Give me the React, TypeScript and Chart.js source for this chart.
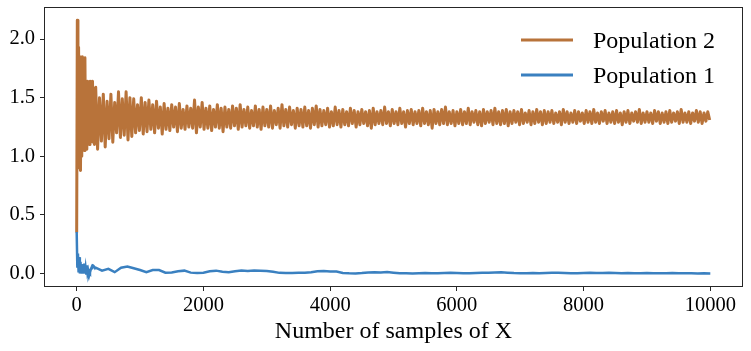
import React, { useEffect, useRef } from 'react';
import { Chart, registerables } from 'chart.js';

Chart.register(...registerables);

// ---- data ----
const seriesNames = ['Population 2', 'Population 1'];
const xTickValues = [0, 2000, 4000, 6000, 8000, 10000];
const yTickValues = [0.0, 0.5, 1.0, 1.5, 2.0];
const xAxisTitle = 'Number of samples of X';

// sampling grid (number of samples)
const earlyStart = 0;
const earlyStep = 10;
const pop2LateStart = 300;
const pop2LateStep = 30;
const pop1LateStart = 300;
const pop1LateStep = 100;

// Population 2, samples 0..290
const pop2Early = [
  0.35, 2.16, 0.9, 1.93, 1.05, 1.85, 0.88, 1.7, 1.0, 1.85,
  1.08, 1.62, 1.05, 1.84, 1.1, 1.6, 1.06, 1.64, 1.12, 1.58,
  1.1, 1.64, 1.12, 1.55, 1.15, 1.64, 1.12, 1.52, 1.1, 1.58,
];
// Population 2, samples 300..9990
const pop2Late = [
  1.59, 1.06, 1.5, 1.13, 1.53, 1.08, 1.47, 1.15, 1.53, 1.12,
  1.46, 1.2, 1.55, 1.16, 1.49, 1.18, 1.55, 1.14, 1.5, 1.17,
  1.49, 1.2, 1.44, 1.22, 1.5, 1.19, 1.46, 1.21, 1.48, 1.23,
  1.44, 1.2, 1.47, 1.24, 1.42, 1.19, 1.45, 1.23, 1.41, 1.22,
  1.44, 1.25, 1.42, 1.21, 1.45, 1.24, 1.4, 1.23, 1.43, 1.25,
  1.41, 1.24, 1.48, 1.2, 1.42, 1.25, 1.46, 1.23, 1.41, 1.24,
  1.43, 1.22, 1.4, 1.25, 1.44, 1.24, 1.41, 1.21, 1.42, 1.25,
  1.4, 1.24, 1.43, 1.26, 1.41, 1.23, 1.44, 1.25, 1.4, 1.26,
  1.42, 1.24, 1.39, 1.26, 1.43, 1.25, 1.4, 1.23, 1.42, 1.26,
  1.4, 1.25, 1.43, 1.24, 1.39, 1.27, 1.41, 1.24, 1.44, 1.26,
  1.4, 1.25, 1.42, 1.27, 1.39, 1.24, 1.41, 1.26, 1.4, 1.25,
  1.42, 1.26, 1.39, 1.24, 1.41, 1.27, 1.43, 1.25, 1.4, 1.26,
  1.39, 1.27, 1.41, 1.25, 1.38, 1.26, 1.42, 1.27, 1.39, 1.25,
  1.4, 1.27, 1.38, 1.26, 1.41, 1.28, 1.39, 1.25, 1.38, 1.27,
  1.4, 1.28, 1.38, 1.26, 1.39, 1.24, 1.41, 1.27, 1.38, 1.28,
  1.39, 1.27, 1.42, 1.28, 1.38, 1.26, 1.4, 1.28, 1.38, 1.27,
  1.41, 1.28, 1.38, 1.25, 1.39, 1.28, 1.4, 1.27, 1.38, 1.28,
  1.39, 1.26, 1.41, 1.28, 1.38, 1.27, 1.39, 1.24, 1.4, 1.28,
  1.38, 1.27, 1.4, 1.28, 1.42, 1.27, 1.38, 1.28, 1.39, 1.26,
  1.38, 1.28, 1.4, 1.27, 1.38, 1.28, 1.41, 1.27, 1.38, 1.29,
  1.39, 1.27, 1.38, 1.26, 1.4, 1.28, 1.38, 1.29, 1.39, 1.27,
  1.41, 1.28, 1.38, 1.27, 1.39, 1.28, 1.4, 1.26, 1.38, 1.28,
  1.39, 1.29, 1.38, 1.27, 1.4, 1.28, 1.37, 1.29, 1.39, 1.27,
  1.38, 1.28, 1.4, 1.29, 1.38, 1.27, 1.39, 1.28, 1.38, 1.29,
  1.39, 1.28, 1.37, 1.29, 1.38, 1.27, 1.4, 1.29, 1.38, 1.28,
  1.37, 1.29, 1.39, 1.28, 1.38, 1.3, 1.37, 1.28, 1.39, 1.29,
  1.38, 1.28, 1.4, 1.29, 1.37, 1.28, 1.38, 1.3, 1.39, 1.28,
  1.37, 1.29, 1.38, 1.28, 1.39, 1.29, 1.37, 1.27, 1.38, 1.29,
  1.39, 1.28, 1.37, 1.3, 1.38, 1.29, 1.4, 1.28, 1.37, 1.29,
  1.38, 1.29, 1.37, 1.28, 1.39, 1.3, 1.38, 1.28, 1.37, 1.29,
  1.38, 1.28, 1.39, 1.29, 1.37, 1.3, 1.38, 1.28, 1.4, 1.29,
  1.37, 1.29, 1.38, 1.28, 1.37, 1.3, 1.39, 1.29, 1.38, 1.28,
  1.37, 1.3, 1.38, 1.31,
];

// Population 1, samples 0..290
const pop1Early = [
  0.355, 0.06, 0.17, 0.01, 0.14, 0.0, 0.1, 0.01, 0.08, 0.0,
  0.06, 0.0, 0.085, 0.01, 0.05, 0.0, 0.07, 0.01, 0.03, 0.0,
  0.02, 0.01, 0.03, 0.045, 0.06, 0.07, 0.068, 0.06, 0.05, 0.045,
];
// Population 1, samples 300..10000
const pop1Late = [
  0.05, 0.025, 0.04, 0.012, 0.05, 0.06, 0.045, 0.03, 0.012, 0.03,
  0.03, 0.008, 0.01, 0.02, 0.025, 0.008, 0.005, 0.008, 0.02, 0.025,
  0.015, 0.012, 0.02, 0.026, 0.022, 0.027, 0.024, 0.022, 0.015, 0.006,
  0.004, 0.005, 0.006, 0.008, 0.012, 0.02, 0.022, 0.018, 0.017, 0.005,
  0.002, 0.001, 0.004, 0.01, 0.012, 0.01, 0.013, 0.008, 0.003, 0.002,
  0.001, 0.002, 0.004, 0.003, 0.002, 0.004, 0.006, 0.005, 0.003, 0.002,
  0.004, 0.006, 0.008, 0.01, 0.012, 0.008, 0.004, 0.002, 0.003, 0.004,
  0.002, 0.004, 0.006, 0.008, 0.005, 0.003, 0.002, 0.004, 0.006, 0.005,
  0.004, 0.006, 0.005, 0.003, 0.004, 0.003, 0.002, 0.004, 0.003, 0.002,
  0.003, 0.004, 0.003, 0.002, 0.002, 0.001, 0.002, 0.001,
];

const xMin = -500;
const xMax = 10500;
const yMin = -0.106;
const yMax = 2.265;

// ---- styles ----
const ORANGE = '#B8733A';
const BLUE = '#3A80C0';
const FONT = '"Liberation Serif", "Times New Roman", serif';
const AXIS = '#262626';

function toPoints(start: number, step: number, values: number[]) {
  return values.map((v, i) => ({ x: start + i * step, y: v }));
}

const frameAndLegend = {
  id: 'frameAndLegend',
  afterDraw(chart: any) {
    const { ctx, chartArea } = chart;
    const { left, top, right, bottom } = chartArea;
    ctx.save();
    ctx.strokeStyle = AXIS;
    ctx.lineWidth = 1;
    ctx.strokeRect(Math.round(left) - 0.5, Math.round(top) - 0.5, Math.round(right - left) + 1, Math.round(bottom - top) + 1);

    // legend (upper right, inside the axes)
    const items = [
      { label: seriesNames[0], color: ORANGE },
      { label: seriesNames[1], color: BLUE },
    ];
    ctx.font = `24px ${FONT}`;
    ctx.textBaseline = 'alphabetic';
    ctx.textAlign = 'left';
    items.forEach((it, i) => {
      const y = 40 + i * 35;
      ctx.strokeStyle = it.color;
      ctx.lineWidth = 3;
      ctx.beginPath();
      ctx.moveTo(521, y);
      ctx.lineTo(573, y);
      ctx.stroke();
      ctx.fillStyle = '#000';
      ctx.fillText(it.label, 593, y + 8.3);
    });
    ctx.restore();
  },
};

export default function App() {
  const ref = useRef<HTMLCanvasElement | null>(null);

  useEffect(() => {
    if (!ref.current) return;
    const pop2 = [...toPoints(earlyStart, earlyStep, pop2Early), ...toPoints(pop2LateStart, pop2LateStep, pop2Late)];
    const pop1 = [...toPoints(earlyStart, earlyStep, pop1Early), ...toPoints(pop1LateStart, pop1LateStep, pop1Late)];

    const chart = new Chart(ref.current, {
      type: 'line',
      data: {
        datasets: [
          {
            label: seriesNames[1],
            data: pop1,
            borderColor: BLUE,
            borderWidth: 2.5,
            pointRadius: 0,
            tension: 0,
            fill: false,
          },
          {
            label: seriesNames[0],
            data: pop2,
            borderColor: ORANGE,
            borderWidth: 3,
            borderJoinStyle: 'round',
            pointRadius: 0,
            tension: 0,
            fill: false,
          },
        ],
      },
      options: {
        responsive: false,
        maintainAspectRatio: false,
        devicePixelRatio: 1,
        animation: false,
        parsing: false,
        normalized: true,
        layout: { padding: { top: 8, right: 9, left: 0, bottom: 0 } },
        plugins: {
          legend: { display: false },
          tooltip: { enabled: false },
        },
        scales: {
          x: {
            type: 'linear',
            min: xMin,
            max: xMax,
            afterBuildTicks: (scale: any) => {
              scale.ticks = xTickValues.map((v) => ({ value: v }));
            },
            afterFit: (scale: any) => {
              scale.height = 65;
              scale.paddingLeft = 0;
              scale.paddingRight = 0;
              scale.paddingTop = 0;
              scale.paddingBottom = 0;
            },
            ticks: {
              autoSkip: false,
              maxRotation: 0,
              minRotation: 0,
              padding: 2,
              color: '#000',
              font: { family: FONT, size: 20.5 },
              callback: (v: any) => String(v),
            },
            grid: {
              display: true,
              drawOnChartArea: false,
              drawTicks: true,
              tickLength: 5,
              color: AXIS,
            },
            border: { display: false },
            title: {
              display: true,
              text: xAxisTitle,
              color: '#000',
              font: { family: FONT, size: 24 },
              padding: { top: 0, bottom: 5 },
            },
          },
          y: {
            type: 'linear',
            min: yMin,
            max: yMax,
            afterBuildTicks: (scale: any) => {
              scale.ticks = yTickValues.map((v) => ({ value: v }));
            },
            afterFit: (scale: any) => {
              scale.width = 45;
              scale.paddingLeft = 0;
              scale.paddingRight = 0;
              scale.paddingTop = 0;
              scale.paddingBottom = 0;
            },
            ticks: {
              padding: 5,
              color: '#000',
              font: { family: FONT, size: 20.5 },
              callback: (v: any) => Number(v).toFixed(1),
            },
            grid: {
              display: true,
              drawOnChartArea: false,
              drawTicks: true,
              tickLength: 5,
              color: AXIS,
            },
            border: { display: false },
          },
        },
      },
      plugins: [frameAndLegend],
    });
    return () => chart.destroy();
  }, []);

  return (
    <div style={{ position: 'fixed', left: 0, top: 0, width: 751, height: 351, background: '#fff' }}>
      <canvas ref={ref} width={751} height={351} style={{ display: 'block', width: 751, height: 351 }} />
    </div>
  );
}
